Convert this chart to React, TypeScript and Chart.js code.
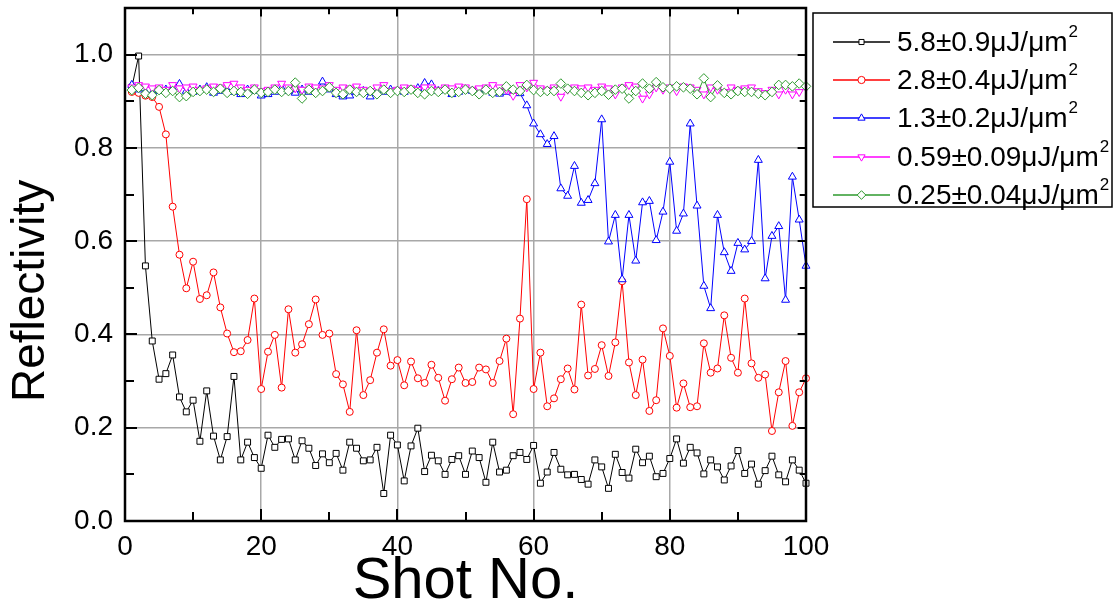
import React, { useEffect, useRef } from 'react';
import { Chart, registerables } from 'chart.js';

Chart.register(...registerables);

const FONT = "'Liberation Sans', Arial, sans-serif";

const shotNumbers = [
  1, 2, 3, 4, 5, 6, 7, 8, 9, 10, 11, 12, 13, 14, 15, 16, 17, 18, 19, 20,
  21, 22, 23, 24, 25, 26, 27, 28, 29, 30, 31, 32, 33, 34, 35, 36, 37, 38, 39, 40,
  41, 42, 43, 44, 45, 46, 47, 48, 49, 50, 51, 52, 53, 54, 55, 56, 57, 58, 59, 60,
  61, 62, 63, 64, 65, 66, 67, 68, 69, 70, 71, 72, 73, 74, 75, 76, 77, 78, 79, 80,
  81, 82, 83, 84, 85, 86, 87, 88, 89, 90, 91, 92, 93, 94, 95, 96, 97, 98, 99, 100,
];

const fluence58 = [
  0.93, 0.997, 0.547, 0.386, 0.304, 0.316, 0.356, 0.266, 0.234, 0.259,
  0.171, 0.279, 0.182, 0.131, 0.181, 0.31, 0.131, 0.169, 0.136, 0.113,
  0.184, 0.158, 0.175, 0.176, 0.131, 0.172, 0.156, 0.119, 0.144, 0.125,
  0.145, 0.109, 0.169, 0.156, 0.129, 0.131, 0.158, 0.059, 0.184, 0.163,
  0.086, 0.161, 0.199, 0.106, 0.141, 0.129, 0.1, 0.132, 0.14, 0.1,
  0.15, 0.136, 0.083, 0.169, 0.105, 0.109, 0.14, 0.147, 0.132, 0.162,
  0.081, 0.105, 0.147, 0.111, 0.099, 0.1, 0.089, 0.079, 0.131, 0.116,
  0.07, 0.143, 0.104, 0.092, 0.154, 0.125, 0.139, 0.095, 0.102, 0.134,
  0.176, 0.124, 0.158, 0.146, 0.101, 0.131, 0.116, 0.088, 0.118, 0.151,
  0.102, 0.122, 0.079, 0.108, 0.139, 0.099, 0.084, 0.131, 0.109, 0.081,
];

const fluence28 = [
  0.92, 0.918, 0.912, 0.909, 0.888, 0.829, 0.674, 0.571, 0.499, 0.556,
  0.476, 0.484, 0.533, 0.458, 0.402, 0.362, 0.364, 0.388, 0.477, 0.283,
  0.363, 0.399, 0.286, 0.454, 0.361, 0.379, 0.422, 0.475, 0.399, 0.402,
  0.315, 0.293, 0.234, 0.409, 0.27, 0.302, 0.361, 0.411, 0.333, 0.345,
  0.291, 0.342, 0.306, 0.296, 0.335, 0.307, 0.258, 0.304, 0.329, 0.296,
  0.298, 0.329, 0.325, 0.296, 0.343, 0.391, 0.229, 0.434, 0.69, 0.283,
  0.361, 0.246, 0.263, 0.304, 0.327, 0.282, 0.464, 0.312, 0.326, 0.377,
  0.311, 0.383, 0.514, 0.34, 0.27, 0.346, 0.236, 0.259, 0.413, 0.354,
  0.243, 0.295, 0.244, 0.246, 0.381, 0.318, 0.327, 0.441, 0.35, 0.318,
  0.477, 0.338, 0.307, 0.314, 0.193, 0.276, 0.343, 0.204, 0.276, 0.306,
];

const fluence13 = [
  0.935, 0.925, 0.92, 0.918, 0.922, 0.925, 0.928, 0.937, 0.922, 0.92,
  0.925, 0.93, 0.918, 0.922, 0.924, 0.92, 0.915, 0.925, 0.922, 0.912,
  0.915, 0.92, 0.928, 0.922, 0.918, 0.925, 0.92, 0.922, 0.942, 0.925,
  0.915, 0.91, 0.912, 0.92, 0.922, 0.91, 0.918, 0.92, 0.925, 0.922,
  0.92, 0.925, 0.928, 0.939, 0.936, 0.922, 0.925, 0.915, 0.92, 0.925,
  0.922, 0.92, 0.925, 0.918, 0.916, 0.92, 0.918, 0.917, 0.891, 0.852,
  0.829, 0.808, 0.825, 0.713, 0.697, 0.761, 0.682, 0.688, 0.724, 0.861,
  0.599, 0.656, 0.518, 0.656, 0.558, 0.683, 0.686, 0.602, 0.663, 0.77,
  0.622, 0.659, 0.852, 0.676, 0.504, 0.456, 0.656, 0.576, 0.536, 0.596,
  0.582, 0.6, 0.774, 0.52, 0.611, 0.632, 0.474, 0.738, 0.646, 0.547,
];

const fluence059 = [
  0.93, 0.935, 0.932, 0.928, 0.93, 0.925, 0.935, 0.928, 0.93, 0.932,
  0.925, 0.928, 0.932, 0.93, 0.935, 0.938, 0.93, 0.925, 0.93, 0.922,
  0.925, 0.93, 0.938, 0.93, 0.928, 0.925, 0.932, 0.93, 0.928, 0.935,
  0.925, 0.93, 0.928, 0.932, 0.925, 0.922, 0.93, 0.935, 0.922, 0.925,
  0.93, 0.928, 0.925, 0.93, 0.93, 0.925, 0.93, 0.928, 0.932, 0.93,
  0.925, 0.928, 0.93, 0.935, 0.93, 0.925, 0.912, 0.935, 0.93, 0.94,
  0.928, 0.925, 0.93, 0.91, 0.925, 0.93, 0.928, 0.93, 0.925, 0.932,
  0.928, 0.915, 0.93, 0.935, 0.932, 0.906, 0.915, 0.93, 0.925, 0.93,
  0.922, 0.932, 0.93, 0.925, 0.915, 0.93, 0.925, 0.92, 0.93, 0.925,
  0.928, 0.93, 0.922, 0.918, 0.925, 0.915, 0.925, 0.915, 0.92, 0.93,
];

const fluence025 = [
  0.924, 0.929, 0.916, 0.913, 0.924, 0.918, 0.922, 0.909, 0.911, 0.92,
  0.922, 0.925, 0.92, 0.927, 0.918, 0.922, 0.92, 0.916, 0.925, 0.918,
  0.92, 0.925, 0.92, 0.922, 0.94, 0.906, 0.925, 0.918, 0.922, 0.93,
  0.918, 0.915, 0.925, 0.92, 0.918, 0.922, 0.915, 0.925, 0.918, 0.922,
  0.92, 0.925, 0.918, 0.915, 0.922, 0.92, 0.925, 0.918, 0.92, 0.925,
  0.922, 0.915, 0.925, 0.918, 0.92, 0.932, 0.925, 0.922, 0.935, 0.924,
  0.92, 0.922, 0.922, 0.938, 0.927, 0.922, 0.918, 0.913, 0.918, 0.922,
  0.914, 0.925, 0.927, 0.906, 0.922, 0.938, 0.927, 0.941, 0.93, 0.927,
  0.932, 0.93, 0.927, 0.915, 0.949, 0.909, 0.934, 0.918, 0.915, 0.922,
  0.92, 0.92, 0.916, 0.913, 0.92, 0.935, 0.935, 0.932, 0.938, 0.932,
];

const seriesLabels = [
  '5.8±0.9μJ/μm²',
  '2.8±0.4μJ/μm²',
  '1.3±0.2μJ/μm²',
  '0.59±0.09μJ/μm²',
  '0.25±0.04μJ/μm²',
];
const seriesColors = ['#000000', '#ff0000', '#0000ff', '#ff00ff', '#2e9a2e'];
const seriesMarkers = ['rect', 'circle', 'triangle', 'triangle', 'rectRot'];
const seriesRotation = [0, 0, 0, 180, 0];
const seriesRadius = [4.2, 3.5, 4.6, 4.6, 4.8];
const seriesValues = [fluence58, fluence28, fluence13, fluence059, fluence025];

const xTickValues = [0, 10, 20, 30, 40, 50, 60, 70, 80, 90, 100];
const xMajorTicks = [0, 20, 40, 60, 80, 100];
const yTickValues = [0, 0.1, 0.2, 0.3, 0.4, 0.5, 0.6, 0.7, 0.8, 0.9, 1.0, 1.1];
const yMajorTicks = [0, 0.2, 0.4, 0.6, 0.8, 1.0];
const yAxisTitle = 'Reflectivity';
const xAxisTitle = 'Shot No.';

function drawMarker(ctx: CanvasRenderingContext2D, style: string, x: number, y: number, r: number, rot: number, color: string) {
  ctx.save();
  ctx.translate(x, y);
  ctx.rotate((rot * Math.PI) / 180);
  ctx.beginPath();
  if (style === 'rect') {
    const s = r * Math.SQRT1_2;
    ctx.rect(-s, -s, 2 * s, 2 * s);
  } else if (style === 'circle') {
    ctx.arc(0, 0, r, 0, Math.PI * 2);
  } else if (style === 'triangle') {
    ctx.moveTo(0, -r * 1.15);
    ctx.lineTo(r, r * 0.6);
    ctx.lineTo(-r, r * 0.6);
    ctx.closePath();
  } else {
    ctx.moveTo(0, -r * 1.2);
    ctx.lineTo(r * 1.2, 0);
    ctx.lineTo(0, r * 1.2);
    ctx.lineTo(-r * 1.2, 0);
    ctx.closePath();
  }
  ctx.fillStyle = '#fff';
  ctx.fill();
  ctx.strokeStyle = color;
  ctx.lineWidth = 1;
  ctx.stroke();
  ctx.restore();
}

const framePlugin = {
  id: 'originFrame',
  afterDatasetsDraw(chart: any) {
    const { ctx, chartArea } = chart;
    const { left, right, top, bottom } = chartArea;
    const xs = chart.scales.x;
    const ys = chart.scales.y;
    ctx.save();
    ctx.strokeStyle = '#000';
    ctx.lineWidth = 2;
    ctx.beginPath();
    xTickValues.forEach((v) => {
      const px = Math.round(xs.getPixelForValue(v));
      const len = xMajorTicks.includes(v) ? 12 : 9;
      ctx.moveTo(px, bottom);
      ctx.lineTo(px, bottom - len);
      ctx.moveTo(px, top);
      ctx.lineTo(px, top + len * 0.7);
    });
    yTickValues.forEach((v) => {
      const py = Math.round(ys.getPixelForValue(v));
      const len = yMajorTicks.some((m) => Math.abs(m - v) < 1e-6) ? 12 : 9;
      ctx.moveTo(left, py);
      ctx.lineTo(left + len, py);
      ctx.moveTo(right, py);
      ctx.lineTo(right - len * 0.7, py);
    });
    ctx.stroke();
    ctx.lineWidth = 2.5;
    ctx.strokeRect(left, top, right - left, bottom - top);

    // y-axis title, centred on the 0 – 1.0 span as in the original
    const cy = (ys.getPixelForValue(0) + ys.getPixelForValue(1.0)) / 2 + 3;
    ctx.translate(31, cy);
    ctx.rotate(-Math.PI / 2);
    ctx.fillStyle = '#000';
    ctx.font = `46px ${FONT}`;
    ctx.textAlign = 'center';
    ctx.textBaseline = 'middle';
    ctx.fillText(yAxisTitle, 0, 0);
    ctx.restore();
  },
  afterDraw(chart: any) {
    const { ctx } = chart;
    const boxX = 813;
    const boxY = 13;
    const boxW = 299;
    const boxH = 194;
    const rowY = [42, 80, 118, 157, 195];
    ctx.save();
    ctx.fillStyle = '#fff';
    ctx.fillRect(boxX, boxY, boxW, boxH);
    ctx.strokeStyle = '#000';
    ctx.lineWidth = 1.5;
    ctx.strokeRect(boxX, boxY, boxW, boxH);
    seriesLabels.forEach((label, i) => {
      const y = rowY[i];
      ctx.strokeStyle = seriesColors[i];
      ctx.lineWidth = 1.3;
      ctx.beginPath();
      ctx.moveTo(833, y);
      ctx.lineTo(890, y);
      ctx.stroke();
      drawMarker(ctx, seriesMarkers[i], 861.5, y, 3.6, seriesRotation[i], seriesColors[i]);
      const main = label.slice(0, -1);
      ctx.fillStyle = '#000';
      ctx.font = `28px ${FONT}`;
      ctx.textBaseline = 'middle';
      ctx.textAlign = 'left';
      ctx.fillText(main, 897, y + 1);
      const w = ctx.measureText(main).width;
      ctx.font = `17px ${FONT}`;
      ctx.fillText('2', 897 + w + 1, y - 10);
    });
    ctx.restore();
  },
};

export default function App() {
  const canvasRef = useRef<HTMLCanvasElement | null>(null);

  useEffect(() => {
    if (!canvasRef.current) return;
    const datasets = seriesValues.map((vals, i) => ({
      label: seriesLabels[i],
      data: vals.map((v, k) => ({ x: shotNumbers[k], y: v })),
      borderColor: seriesColors[i],
      backgroundColor: '#ffffff',
      borderWidth: 1,
      pointStyle: seriesMarkers[i] as any,
      pointRotation: seriesRotation[i],
      pointRadius: seriesRadius[i],
      pointBorderWidth: 1,
      pointBorderColor: seriesColors[i],
      pointBackgroundColor: '#ffffff',
      tension: 0,
      clip: false as any,
      order: 4 - i,
    }));

    const gridColor = '#a8a8a8';
    const chart = new Chart(canvasRef.current, {
      type: 'line',
      data: { datasets },
      options: {
        animation: false,
        responsive: false,
        maintainAspectRatio: false,
        layout: { padding: { left: 0, right: 308, top: 8, bottom: 0 } },
        plugins: {
          legend: { display: false },
          tooltip: { enabled: false },
        },
        scales: {
          x: {
            type: 'linear',
            min: 0,
            max: 100,
            afterFit: (s: any) => {
              s.height = 88;
              s.paddingLeft = 0;
              s.paddingRight = 0;
            },
            border: { display: false },
            grid: { color: gridColor, lineWidth: 1.5, drawTicks: false },
            ticks: {
              stepSize: 20,
              color: '#000',
              font: { family: FONT, size: 28 },
              padding: 9,
              maxRotation: 0,
              autoSkip: false,
            },
            title: {
              display: true,
              text: xAxisTitle,
              color: '#000',
              font: { family: FONT, size: 58 },
              padding: { top: 0, bottom: -8 },
            },
          },
          y: {
            type: 'linear',
            min: 0,
            max: 1.1,
            afterFit: (s: any) => {
              s.width = 125;
              s.paddingTop = 0;
              s.paddingBottom = 0;
            },
            border: { display: false },
            grid: { color: gridColor, lineWidth: 1.5, drawTicks: false },
            ticks: {
              stepSize: 0.2,
              includeBounds: false,
              color: '#000',
              font: { family: FONT, size: 28 },
              padding: 12,
              callback: (v: any) => Number(v).toFixed(1),
            },
            title: { display: false },
          },
        },
      },
      plugins: [framePlugin],
    });
    return () => chart.destroy();
  }, []);

  return (
    <div style={{ position: 'absolute', left: 0, top: 0, width: 1114, height: 609, background: '#fff' }}>
      <canvas ref={canvasRef} width={1114} height={609} style={{ width: 1114, height: 609, display: 'block' }} />
    </div>
  );
}
